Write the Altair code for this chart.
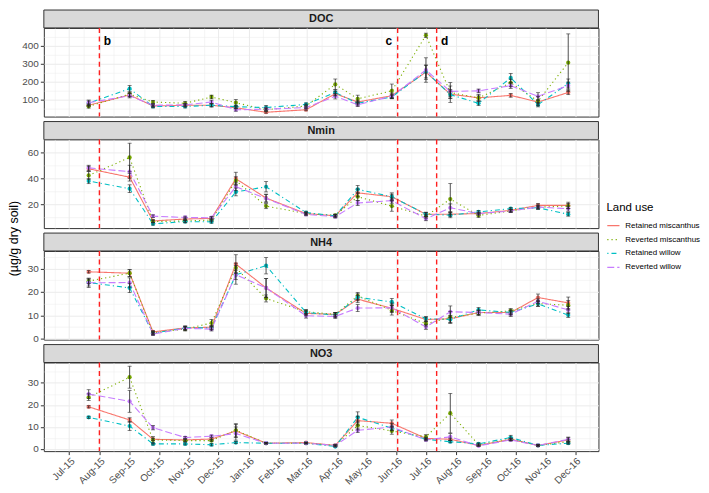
import altair as alt
import pandas as pd

FONT = "Liberation Sans"

dates = ["2015-07-21", "2015-09-01", "2015-09-25", "2015-10-28", "2015-11-24",
         "2015-12-19", "2016-01-19", "2016-02-29", "2016-03-30", "2016-04-22",
         "2016-05-27", "2016-07-01", "2016-07-26", "2016-08-24", "2016-09-26",
         "2016-10-24", "2016-11-24"]
series = ["Retained miscanthus", "Reverted miscanthus", "Retained willow", "Reverted willow"]
colors = ["#F8766D", "#7CAE00", "#00BFC4", "#C77CFF"]
dashes = [[1, 0], [1.2, 3], [1.2, 3, 5, 3], [7, 3]]

# order of inner lists follows `series`
doc_means = [
    [68, 125, 64, 68, 68, 54, 29, 43, 132, 86, 121, 252, 130, 109, 123, 86, 139],
    [62, 130, 86, 79, 114, 82, 43, 64, 184, 104, 148, 457, 139, 109, 193, 91, 305],
    [80, 160, 61, 61, 68, 60, 55, 73, 139, 79, 114, 255, 127, 79, 220, 71, 189],
    [82, 121, 68, 70, 86, 43, 46, 55, 118, 71, 118, 264, 145, 148, 177, 118, 177],
]
doc_se = [
    [8, 10, 6, 8, 8, 6, 5, 6, 12, 10, 15, 40, 25, 15, 10, 10, 12],
    [10, 12, 8, 10, 10, 18, 8, 8, 30, 20, 38, 12, 55, 20, 20, 25, 160],
    [12, 18, 8, 8, 10, 8, 12, 8, 15, 10, 10, 35, 20, 12, 25, 12, 25],
    [15, 12, 8, 8, 10, 8, 8, 8, 15, 10, 12, 68, 30, 10, 15, 20, 20],
]
nmin_means = [
    [47.6, 41.1, 7.3, 8.8, 9.3, 39.9, 25, 13, 11.3, 29, 26, 12.5, 12.5, 13, 15.5, 19.3, 19.3],
    [42.4, 56.3, 6.8, 7.3, 8, 38.4, 18.8, 13, 11.6, 26, 18.8, 11, 24.2, 11.6, 15, 18, 18.8],
    [38.1, 32.2, 5.1, 6.8, 6.6, 29.7, 33.7, 13.8, 11.3, 31.7, 26, 12.5, 11.8, 14.3, 16.8, 17.5, 12.5],
    [48.3, 45.3, 11, 10, 9.8, 33.7, 24.7, 12.3, 10.6, 21.2, 23, 9, 17.5, 13, 15, 18, 16.8],
]
nmin_se = [
    [2, 3, 1, 1, 1, 5, 3, 1, 1, 3, 3, 1.5, 1.5, 1, 1, 1.5, 2.5],
    [3, 11, 1, 1, 1, 3, 2, 1, 1, 3, 4, 1.5, 12, 1.5, 1, 1.5, 2],
    [2, 3, 1, 1, 1, 3, 4, 1, 1, 3, 2, 1.5, 2, 1, 1, 1, 1.5],
    [2, 5, 1, 1, 1, 3, 3, 1, 1, 2, 2, 1.5, 3, 1, 1, 1.5, 2],
]
nh4_means = [
    [28.6, 28, 2.9, 4.6, 4.9, 31.9, 21.7, 10.8, 10.4, 16.9, 13, 8.2, 8.5, 11.2, 11.2, 17.6, 15.3],
    [24.6, 28, 2.5, 4.1, 6.7, 30.3, 17.2, 11.5, 10.4, 18.3, 12.1, 6.4, 9.1, 10.9, 11.9, 15, 14.3],
    [24, 21.7, 2.3, 4.6, 4.6, 27.3, 31.2, 11.2, 10.1, 17.7, 15.7, 8.5, 8.2, 12.3, 11.2, 14.9, 10.1],
    [23.9, 24, 2, 4.4, 4.1, 27.3, 21.7, 9.8, 9.5, 13.1, 13.2, 5, 11.5, 11.2, 10.5, 16, 12.3],
]
nh4_se = [
    [0.5, 1.5, 0.6, 0.8, 0.8, 4, 4, 1, 0.8, 1.5, 1.5, 1, 1.5, 1, 1, 1.5, 2.5],
    [1, 1.5, 0.6, 0.8, 1.5, 2, 1.5, 1, 0.8, 1.5, 2, 1, 2.5, 1, 1, 1.2, 2],
    [1.5, 2, 0.6, 0.8, 0.8, 2, 3.5, 1, 1, 1.5, 1.5, 1, 1.5, 1, 1, 1, 1],
    [2, 2, 0.6, 0.8, 0.8, 4, 4, 1, 0.8, 1.5, 2, 1, 2.5, 1, 1, 1, 1.5],
]
no3_means = [
    [19.1, 13.1, 4.3, 4, 4.4, 8.1, 2.5, 2.8, 1.5, 12.8, 11.6, 4.7, 4.3, 1.5, 4.3, 1.5, 4],
    [23.5, 32.6, 4, 3.7, 3.7, 8.4, 2.5, 2.5, 1.5, 10.6, 8.1, 5.4, 16.2, 1.8, 4.3, 1.5, 3.2],
    [14.3, 10.3, 2.2, 2.2, 1.8, 2.8, 2.5, 2.5, 1, 14.3, 9.4, 4.3, 3.2, 2.2, 5.1, 1.5, 2.5],
    [24.9, 21.6, 9.6, 5.1, 5.7, 6.9, 2.5, 2.5, 1.5, 8.4, 9.9, 4, 5.4, 1.3, 4, 1.5, 4.3],
]
no3_se = [
    [0.5, 1, 0.5, 0.5, 0.5, 3, 0.3, 0.3, 0.3, 2, 1.5, 0.5, 0.5, 0.3, 0.5, 0.3, 1],
    [1.5, 5, 1.5, 0.5, 0.5, 3, 0.3, 0.3, 0.3, 2, 1.5, 1, 9, 0.5, 0.5, 0.3, 0.8],
    [0.5, 2, 0.5, 0.5, 0.5, 0.5, 0.3, 0.3, 0.3, 2.5, 1, 0.5, 0.5, 0.5, 1, 0.3, 0.5],
    [2, 5, 1, 0.5, 0.5, 3, 0.3, 0.3, 0.3, 1, 1.5, 0.5, 1.5, 0.3, 0.5, 0.3, 1],
]

vline_dates = ["2015-08-01", "2016-06-02", "2016-07-12"]
vline_labels = ["b", "c", "d"]
y_title = "(µg/g dry soil)"

W = 557
H = 89
STRIP_H = 18
GAP = 5
TOTAL_H = 4 * (STRIP_H + H) + 3 * GAP


def dt(y, m, d):
    return alt.DateTime(year=y, month=m, date=d, utc=True)


month_list = [(2015, m) for m in range(7, 13)] + [(2016, m) for m in range(1, 13)]
major_x = [dt(y, m, 1) for y, m in month_list]
minor_x = [dt(2015, 6, 16)] + [dt(y, m, 16) for y, m in month_list]
x_domain = [dt(2015, 6, 5), dt(2016, 12, 25)]


def long_df(means, ses):
    rows = []
    for s, ml, el in zip(series, means, ses):
        for d, m, e in zip(dates, ml, el):
            rows.append({"date": d, "series": s, "mean": m, "lo": m - e, "hi": m + e})
    return pd.DataFrame(rows)


vline_df = pd.DataFrame({"date": vline_dates, "label": vline_labels})

legend = alt.Legend(
    title="Land use", orient="none", legendX=599, legendY=193,
    titleFontSize=11.5, titleFontWeight="normal", titleColor="black", titleFont=FONT,
    labelFontSize=8, labelColor="black", labelFont=FONT,
    symbolType="stroke", symbolSize=150, symbolStrokeWidth=1.3,
    rowPadding=3, titlePadding=5, labelOffset=5,
)


def strip(label, top_gap):
    d = pd.DataFrame({"label": [label]})
    band = alt.Chart(d).mark_rect(fill="#D9D9D9", stroke="#333333", strokeWidth=1).encode(
        x=alt.value(0), x2=alt.value(W), y=alt.value(top_gap), y2=alt.value(top_gap + STRIP_H)
    )
    txt = alt.Chart(d).mark_text(
        fontWeight="bold", fontSize=11, color="#1A1A1A", font=FONT
    ).encode(text="label:N", x=alt.value(W / 2), y=alt.value(top_gap + STRIP_H / 2 + 0.5))
    return alt.layer(band, txt).properties(
        width=W, height=STRIP_H + top_gap,
        view=alt.ViewBackground(stroke="transparent", strokeWidth=0),
    )


def panel(means, ses, ydom, ymaj, ymin, bottom=False, annot=False):
    df = long_df(means, ses)
    xscale = alt.Scale(type="utc", domain=x_domain)
    yscale = alt.Scale(domain=ydom, nice=False, zero=False)
    if bottom:
        xaxis = alt.Axis(values=major_x, orient="bottom", format="%b-%y", labelAngle=315,
                         labelAlign="right", labelBaseline="top", grid=True,
                         gridColor="#EBEBEB", gridWidth=1,
                         ticks=True, tickSize=3.5, tickColor="#333333", tickWidth=1,
                         domain=False, title=None, labelFontSize=10, labelColor="#4D4D4D",
                         labelFont=FONT, labelPadding=1, labelOverlap=False)
    else:
        xaxis = alt.Axis(values=major_x, orient="bottom", labels=False, ticks=False,
                         domain=False, grid=True, gridColor="#EBEBEB", gridWidth=1, title=None)
    yaxis = alt.Axis(values=ymaj, orient="left", grid=True, gridColor="#EBEBEB", gridWidth=1,
                     ticks=True, tickSize=3.5, tickColor="#333333", tickWidth=1,
                     domain=False, labelFontSize=10, labelColor="#4D4D4D", labelFont=FONT,
                     labelPadding=2, title=None)
    minor_xaxis = alt.Axis(values=minor_x, orient="bottom", labels=False, ticks=False,
                           domain=False, grid=True, gridColor="#EBEBEB", gridWidth=0.5, title=None)
    minor_yaxis = alt.Axis(values=ymin, orient="left", labels=False, ticks=False,
                           domain=False, grid=True, gridColor="#EBEBEB", gridWidth=0.5, title=None)

    base = alt.Chart(df)
    color = alt.Color("series:N", scale=alt.Scale(domain=series, range=colors), legend=legend)
    dash = alt.StrokeDash("series:N", scale=alt.Scale(domain=series, range=dashes), legend=legend)

    grid_minor = base.mark_rule(opacity=0).encode(
        x=alt.X("date:T", scale=xscale, axis=minor_xaxis),
        y=alt.Y("lo:Q", scale=yscale, axis=minor_yaxis),
    )
    vlines = alt.Chart(vline_df).mark_rule(color="#FF2020", strokeWidth=1.4, strokeDash=[5, 3.5]).encode(
        x=alt.X("date:T", axis=None)
    )
    lines = base.mark_line(strokeWidth=1.1).encode(
        x=alt.X("date:T", scale=xscale, axis=xaxis),
        y=alt.Y("mean:Q", scale=yscale, axis=yaxis),
        color=color, strokeDash=dash,
    )
    pts = base.mark_circle(size=18, opacity=1).encode(
        x=alt.X("date:T", axis=None), y=alt.Y("mean:Q", axis=None),
        color=alt.Color("series:N", legend=None),
    )
    err = base.mark_rule(color="#222222", strokeWidth=0.8).encode(
        x=alt.X("date:T", axis=None), y=alt.Y("lo:Q", axis=None), y2="hi:Q"
    )
    cap_lo = base.mark_tick(orient="horizontal", size=4, thickness=0.8, color="#222222").encode(
        x=alt.X("date:T", axis=None), y=alt.Y("lo:Q", axis=None)
    )
    cap_hi = base.mark_tick(orient="horizontal", size=4, thickness=0.8, color="#222222").encode(
        x=alt.X("date:T", axis=None), y=alt.Y("hi:Q", axis=None)
    )
    layers = [grid_minor, lines, vlines, pts, err, cap_lo, cap_hi]
    if annot:
        ann = alt.Chart(vline_df).transform_calculate(ypos="425")
        right = ann.transform_filter("datum.label != 'c'").mark_text(
            fontWeight="bold", fontSize=12, color="black", font=FONT, dx=8
        ).encode(x=alt.X("date:T", axis=None), y=alt.Y("ypos:Q", axis=None), text="label:N")
        left = ann.transform_filter("datum.label == 'c'").mark_text(
            fontWeight="bold", fontSize=12, color="black", font=FONT, dx=-9
        ).encode(x=alt.X("date:T", axis=None), y=alt.Y("ypos:Q", axis=None), text="label:N")
        layers += [right, left]
    return alt.layer(*layers).resolve_axis(x="independent", y="independent").properties(
        width=W, height=H
    )


p_doc = panel(doc_means, doc_se, [5, 498], [100, 200, 300, 400], [50, 150, 250, 350, 450], annot=True)
p_nmin = panel(nmin_means, nmin_se, [1.8, 70.2], [20, 40, 60], [10, 30, 50, 70])
p_nh4 = panel(nh4_means, nh4_se, [-0.4, 37.5], [0, 10, 20, 30], [5, 15, 25, 35])
p_no3 = panel(no3_means, no3_se, [-1.1, 39.3], [0, 10, 20, 30], [5, 15, 25, 35], bottom=True)

rows = [
    strip("DOC", 0), p_doc,
    strip("Nmin", GAP), p_nmin,
    strip("NH4", GAP), p_nh4,
    strip("NO3", GAP), p_no3,
]
panels = alt.vconcat(*rows, spacing=0, bounds="flush")

title_col = alt.Chart(pd.DataFrame({"t": [y_title]})).mark_text(
    angle=270, fontSize=12.5, color="black", font=FONT, baseline="middle", align="center"
).encode(
    text="t:N", x=alt.value(4), y=alt.value(TOTAL_H / 2 + 8)
).properties(
    width=9, height=TOTAL_H,
    view=alt.ViewBackground(stroke="transparent", strokeWidth=0),
)

chart = alt.hconcat(title_col, panels, spacing=0).properties(
    padding={"left": 0, "top": 0, "right": 0, "bottom": 0}
).configure(font=FONT).configure_view(stroke="#333333", strokeWidth=1)

chart.save("out.html", embed_options={"renderer": "svg", "actions": False})
